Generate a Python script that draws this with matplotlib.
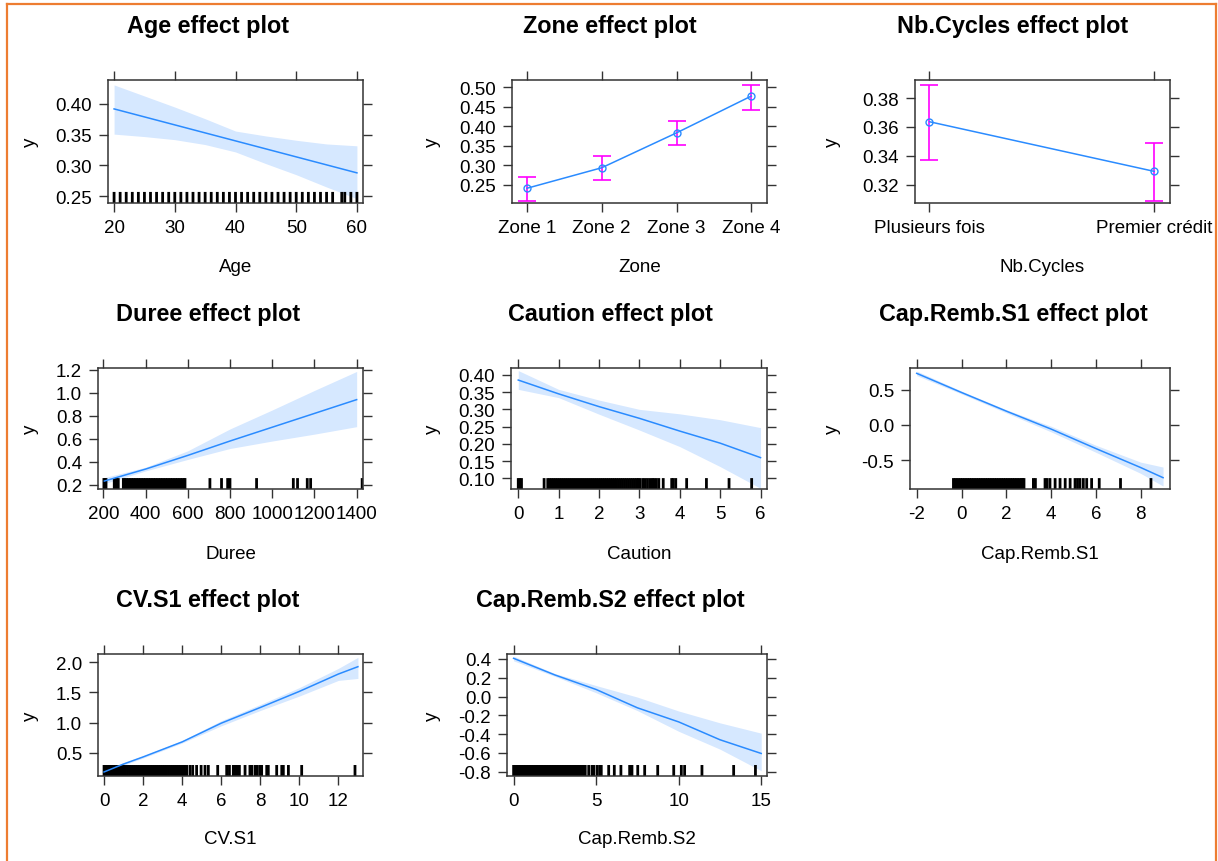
"""Effect plots for the credit-default logistic model (one panel per term)."""

import matplotlib
matplotlib.use("Agg")
import matplotlib.pyplot as plt
from matplotlib.lines import Line2D
from matplotlib.ticker import FormatStrFormatter
from matplotlib.transforms import blended_transform_factory

plt.rcParams["font.family"] = ["Liberation Sans", "DejaVu Sans"]
plt.rcParams["axes.unicode_minus"] = False

W, H = 1218, 862
LINE = "#2A8BFF"
BAND = "#D6E8FF"
BOX = "#333333"
ERR = "#FF00FF"
BORDER = "#ED7D31"

# --- Age -------------------------------------------------------------------
age_x = [20, 25, 30, 35, 40, 45, 50, 55, 60]
age_fit = [0.392, 0.379, 0.366, 0.353, 0.340, 0.327, 0.314, 0.301, 0.288]
age_lo = [0.351, 0.347, 0.342, 0.334, 0.322, 0.303, 0.285, 0.265, 0.246]
age_hi = [0.431, 0.413, 0.395, 0.376, 0.356, 0.348, 0.341, 0.335, 0.332]
age_rug = [20, 21, 22, 23, 24, 25, 26, 27, 28, 29, 30, 31, 32, 33, 34, 35,
           36, 37, 38, 39, 40, 41, 42, 43, 44, 45, 46, 47, 48, 49, 50, 51,
           52, 53, 54, 55, 56, 57.5, 58, 59, 60]

# --- Zone ------------------------------------------------------------------
zone_labels = ["Zone 1", "Zone 2", "Zone 3", "Zone 4"]
zone_fit = [0.2416, 0.294, 0.383, 0.477]
zone_lo = [0.210, 0.262, 0.352, 0.441]
zone_hi = [0.271, 0.324, 0.413, 0.506]

# --- Nb.Cycles -------------------------------------------------------------
cyc_labels = ["Plusieurs fois", "Premier crédit"]
cyc_fit = [0.3636, 0.3292]
cyc_lo = [0.3373, 0.3089]
cyc_hi = [0.3892, 0.3489]

# --- Duree -----------------------------------------------------------------
dur_x = [205, 400, 600, 800, 1000, 1200, 1400]
dur_fit = [0.232, 0.336, 0.455, 0.580, 0.700, 0.820, 0.940]
dur_lo = [0.210, 0.320, 0.420, 0.515, 0.580, 0.640, 0.705]
dur_hi = [0.262, 0.352, 0.495, 0.685, 0.850, 1.020, 1.185]
dur_rug = [203, 208, 213, 252, 258, 262, 271,
           295, 303, 311, 319, 327, 335, 343, 351, 359, 367, 375, 383, 391,
           399, 407, 415, 423, 431, 439, 447, 455, 463, 471, 479, 487, 495,
           503, 511, 519, 527, 535, 543, 551, 559, 567, 575, 583, 587,
           705, 760, 789, 800, 926, 1100, 1120, 1166, 1182, 1426]

# --- Caution ---------------------------------------------------------------
cau_x = [0, 1, 2, 3, 4, 5, 6]
cau_fit = [0.385, 0.345, 0.308, 0.274, 0.237, 0.202, 0.160]
cau_lo = [0.358, 0.334, 0.286, 0.240, 0.192, 0.134, 0.071]
cau_hi = [0.4125, 0.358, 0.327, 0.300, 0.287, 0.270, 0.247]
cau_rug = [0.0, 0.04, 0.08, 0.64,
           0.73, 0.78, 0.83, 0.88, 0.93, 0.98, 1.03, 1.08, 1.13, 1.18, 1.23,
           1.28, 1.33, 1.38, 1.43, 1.48, 1.53, 1.58, 1.63, 1.68, 1.73, 1.78,
           1.83, 1.88, 1.93, 1.98, 2.03, 2.08, 2.13, 2.18, 2.23, 2.28, 2.33,
           2.38, 2.43, 2.48, 2.53, 2.58, 2.63, 2.68, 2.73, 2.78, 2.83, 2.88,
           2.93, 2.97, 3.01, 3.08, 3.14, 3.20, 3.26, 3.32, 3.36, 3.42, 3.48,
           3.59, 3.80, 3.84, 3.90, 4.17, 4.66, 5.22, 5.78]

# --- Cap.Remb.S1 -----------------------------------------------------------
cr1_x = [-2, 0, 2, 4, 6, 8, 9]
cr1_fit = [0.732, 0.460, 0.195, -0.060, -0.337, -0.607, -0.751]
cr1_lo = [0.700, 0.440, 0.170, -0.100, -0.390, -0.690, -0.870]
cr1_hi = [0.765, 0.480, 0.215, -0.020, -0.290, -0.530, -0.600]
cr1_rug = [-0.36, -0.28, -0.20, -0.12, -0.04, 0.04, 0.12, 0.20, 0.28, 0.36,
           0.44, 0.52, 0.60, 0.68, 0.76, 0.84, 0.92, 1.00, 1.08, 1.16, 1.24,
           1.32, 1.40, 1.48, 1.56, 1.64, 1.72, 1.80, 1.88, 1.96, 2.04, 2.12,
           2.20, 2.28, 2.36, 2.44, 2.52, 2.60, 2.68, 2.73,
           2.79, 3.21, 3.30, 3.73, 3.82, 3.95, 4.18, 4.40, 4.63, 4.85, 5.07,
           5.18, 5.29, 5.44, 5.59, 5.81, 6.15, 7.10, 8.46]

# --- CV.S1 -----------------------------------------------------------------
cv_x = [0, 1, 2, 4, 6, 8, 10, 12, 13]
cv_fit = [0.178, 0.310, 0.428, 0.678, 0.989, 1.250, 1.517, 1.806, 1.928]
cv_lo = [0.150, 0.290, 0.410, 0.660, 0.945, 1.200, 1.440, 1.700, 1.733]
cv_hi = [0.210, 0.335, 0.445, 0.700, 1.030, 1.300, 1.580, 1.900, 2.083]
cv_rug = [0.0, 0.1, 0.2, 0.3, 0.4, 0.5, 0.6, 0.7, 0.8, 0.9, 1.0, 1.1, 1.2,
          1.3, 1.4, 1.5, 1.6, 1.7, 1.8, 1.9, 2.0, 2.1, 2.2, 2.3, 2.4, 2.5,
          2.6, 2.7, 2.8, 2.9, 3.0, 3.1, 3.2, 3.3, 3.4, 3.5, 3.6, 3.7, 3.8,
          3.9, 4.0, 4.1, 4.15,
          4.23, 4.40, 4.54, 4.74, 4.97, 5.17, 5.34, 5.82, 6.28, 6.42, 6.62,
          6.71, 6.79, 6.93, 7.22, 7.47, 7.56, 7.73, 7.85, 7.99, 8.07, 8.33,
          8.41, 8.84, 9.10, 9.18, 9.44, 10.12, 12.85]

# --- Cap.Remb.S2 -----------------------------------------------------------
cr2_x = [0, 2.5, 5, 7.5, 10, 12.5, 15]
cr2_fit = [0.407, 0.230, 0.075, -0.120, -0.270, -0.460, -0.606]
cr2_lo = [0.380, 0.215, 0.040, -0.150, -0.370, -0.560, -0.790]
cr2_hi = [0.430, 0.245, 0.117, -0.006, -0.154, -0.280, -0.390]
cr2_rug = [0.0, 0.1, 0.2, 0.3, 0.4, 0.5, 0.6, 0.7, 0.8, 0.9, 1.0, 1.1, 1.2,
           1.3, 1.4, 1.5, 1.6, 1.7, 1.8, 1.9, 2.0, 2.1, 2.2, 2.3, 2.4, 2.5,
           2.6, 2.7, 2.8, 2.9, 3.0, 3.1, 3.2, 3.3, 3.4, 3.5, 3.6, 3.7, 3.8,
           3.9, 4.0, 4.1, 4.2, 4.3, 4.34,
           4.55, 4.75, 4.85, 5.05, 5.21, 5.31, 5.76, 6.10, 6.50, 7.03, 7.17,
           7.52, 7.94, 8.73, 9.70, 10.16, 10.36, 11.41, 13.33, 14.65]

COL_CENTER = [208, 610, 1013]
COL_YLAB = [30, 432, 832]
ROW_TITLE = [27, 315, 600]
ROW_XLAB = [268, 555, 840]

fig = plt.figure(figsize=(W / 100, H / 100), dpi=100)


def make_panel(box, row, col, name, xlim, ylim, xticks, yticks, yfmt,
               xfmt=None, xticklabels=None):
    x0, y0, x1, y1 = box
    ax = fig.add_axes([x0 / W, 1 - y1 / H, (x1 - x0) / W, (y1 - y0) / H])
    ax.set_xlim(*xlim)
    ax.set_ylim(*ylim)
    ax.set_xticks(xticks)
    ax.set_yticks(yticks)
    if xticklabels is not None:
        ax.set_xticklabels(xticklabels)
    elif xfmt is not None:
        ax.xaxis.set_major_formatter(FormatStrFormatter(xfmt))
    ax.yaxis.set_major_formatter(FormatStrFormatter(yfmt))
    ax.tick_params(top=True, right=True, labeltop=False, labelright=False,
                   direction="out", length=6.5, width=1.0, color=BOX,
                   pad=5, labelsize=13.5)
    for sp in ax.spines.values():
        sp.set_color(BOX)
        sp.set_linewidth(1.1)

    fig.text(COL_CENTER[col] / W, 1 - ROW_TITLE[row] / H,
             f"{name} effect plot", ha="center", va="center",
             fontsize=16.8, fontweight="bold")
    fig.text(COL_YLAB[col] / W, 1 - (y0 + y1) / 2 / H, "y", rotation=90,
             ha="center", va="center", fontsize=13.5)
    fig.text((x0 + x1) / 2 / W, 1 - ROW_XLAB[row] / H, name,
             ha="center", va="center", fontsize=13.5)
    return ax


def draw_effect(ax, x, fit, lo, hi, rug):
    ax.fill_between(x, lo, hi, color=BAND, linewidth=0, zorder=1)
    ax.plot(x, fit, color=LINE, linewidth=1.1, zorder=3)
    trans = blended_transform_factory(ax.transData, ax.transAxes)
    ticks = ax.vlines(rug, 0, 0.09, colors="black", linewidth=2.0,
                      transform=trans, zorder=2)
    ticks.set_snap(False)


def draw_factor(ax, fit, lo, hi):
    pos = list(range(1, len(fit) + 1))
    err = [[f - l for f, l in zip(fit, lo)], [h - f for f, h in zip(fit, hi)]]
    ax.errorbar(pos, fit, yerr=err, fmt="none", ecolor=ERR, elinewidth=1.2,
                capsize=6.8, capthick=1.2, zorder=2)
    ax.plot(pos, fit, color=LINE, linewidth=1.1, marker="o", markersize=5,
            markerfacecolor="none", markeredgewidth=1.0, zorder=3)


ax = make_panel((108, 81, 363, 204), 0, 0, "Age", (19, 61), (0.239, 0.439),
                [20, 30, 40, 50, 60], [0.25, 0.30, 0.35, 0.40], "%.2f")
draw_effect(ax, age_x, age_fit, age_lo, age_hi, age_rug)

ax = make_panel((512, 81, 767, 204), 0, 1, "Zone", (0.80, 4.21),
                (0.204, 0.518), [1, 2, 3, 4],
                [0.25, 0.30, 0.35, 0.40, 0.45, 0.50], "%.2f",
                xticklabels=zone_labels)
draw_factor(ax, zone_fit, zone_lo, zone_hi)

ax = make_panel((915, 81, 1170, 204), 0, 2, "Nb.Cycles", (0.936, 2.07),
                (0.3073, 0.3925), [1, 2], [0.32, 0.34, 0.36, 0.38], "%.2f",
                xticklabels=cyc_labels)
draw_factor(ax, cyc_fit, cyc_lo, cyc_hi)

ax = make_panel((98, 369, 363, 490), 1, 0, "Duree", (175, 1430),
                (0.163, 1.215), [200, 400, 600, 800, 1000, 1200, 1400],
                [0.2, 0.4, 0.6, 0.8, 1.0, 1.2], "%.1f", xfmt="%d")
draw_effect(ax, dur_x, dur_fit, dur_lo, dur_hi, dur_rug)

ax = make_panel((511, 369, 767, 490), 1, 1, "Caution", (-0.18, 6.16),
                (0.069, 0.420), [0, 1, 2, 3, 4, 5, 6],
                [0.10, 0.15, 0.20, 0.25, 0.30, 0.35, 0.40], "%.2f",
                xfmt="%d")
draw_effect(ax, cau_x, cau_fit, cau_lo, cau_hi, cau_rug)

ax = make_panel((910, 369, 1170, 490), 1, 2, "Cap.Remb.S1", (-2.3, 9.31),
                (-0.912, 0.808), [-2, 0, 2, 4, 6, 8], [-0.5, 0.0, 0.5],
                "%.1f", xfmt="%d")
draw_effect(ax, cr1_x, cr1_fit, cr1_lo, cr1_hi, cr1_rug)

ax = make_panel((98, 655, 363, 777), 2, 0, "CV.S1", (-0.31, 13.26),
                (0.111, 2.139), [0, 2, 4, 6, 8, 10, 12],
                [0.5, 1.0, 1.5, 2.0], "%.1f", xfmt="%d")
draw_effect(ax, cv_x, cv_fit, cv_lo, cv_hi, cv_rug)

ax = make_panel((507, 655, 767, 777), 2, 1, "Cap.Remb.S2", (-0.4, 15.35),
                (-0.846, 0.453), [0, 5, 10, 15],
                [-0.8, -0.6, -0.4, -0.2, 0.0, 0.2, 0.4], "%.1f", xfmt="%d")
draw_effect(ax, cr2_x, cr2_fit, cr2_lo, cr2_hi, cr2_rug)

# orange frame (open at the bottom)
bx0, by0, bx1 = 7 / W, 1 - 5 / H, 1216 / W
for xs, ys in [([bx0, bx0], [0, by0]), ([bx1, bx1], [by0, 0]),
               ([bx0, bx1], [by0, by0])]:
    fig.add_artist(Line2D(xs, ys, transform=fig.transFigure,
                          color=BORDER, linewidth=1.6))

fig.savefig("out.png", dpi=100)
